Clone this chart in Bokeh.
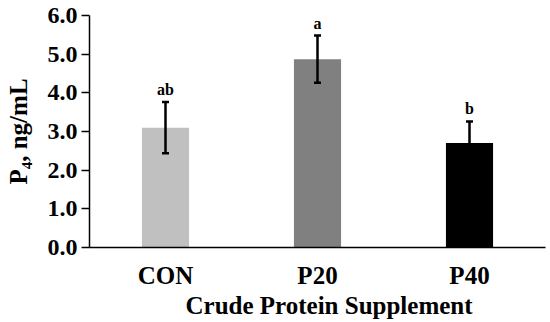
from bokeh.plotting import figure
from bokeh.models import ColumnDataSource, Whisker, Title, FixedTicker
from bokeh.core.properties import value
from bokeh.embed import file_html
from bokeh.resources import INLINE

categories = ["CON", "P20", "P40"]
means = [3.10, 4.87, 2.70]
sems = [0.66, 0.61, 0.56]
letters = ["ab", "a", "b"]
colors = ["#c0c0c0", "#808080", "#000000"]
y_ticks = [0, 1, 2, 3, 4, 5, 6]
y_tick_labels = ["0.0", "1.0", "2.0", "3.0", "4.0", "5.0", "6.0"]
y_label = "P\u2084, ng/mL"
x_label = "Crude Protein Supplement"

FONT = "Liberation Serif"
xs = list(range(1, len(categories) + 1))
src = ColumnDataSource(dict(
    x=xs, mean=means, color=colors, letter=letters,
    lower=[m - s for m, s in zip(means, sems)],
    upper=[m + s for m, s in zip(means, sems)],
))

p = figure(width=550, height=322, x_range=(0.5, 3.5), y_range=(0, 6),
           output_backend="svg", toolbar_location=None,
           min_border_left=89, min_border_right=5, min_border_top=15,
           min_border_bottom=75)
p.outline_line_color = None
p.xgrid.visible = False
p.ygrid.visible = False

p.vbar(x="x", top="mean", width=0.31, bottom=0, fill_color="color",
       line_color=None, source=src)
w = Whisker(base="x", lower="lower", upper="upper", source=src,
            line_color="black", line_width=2.5, level="overlay")
w.upper_head.size = 7
w.lower_head.size = 7
w.upper_head.line_width = 2.5
w.lower_head.line_width = 2.5
p.add_layout(w)

p.text(x="x", y="upper", text="letter", source=src, y_offset=-4,
       text_align="center", text_baseline="bottom",
       text_font=value(FONT), text_font_style="bold",
       text_font_size="16px", text_color="black")

p.yaxis.ticker = FixedTicker(ticks=y_ticks)
p.yaxis.major_label_overrides = {t: l for t, l in zip(y_ticks, y_tick_labels)}
p.yaxis.minor_tick_line_color = None
p.yaxis.major_tick_in = 0
p.yaxis.major_tick_out = 8
p.yaxis.axis_line_width = 1.5
p.yaxis.major_tick_line_width = 1.5
p.yaxis.major_label_text_font = FONT
p.yaxis.major_label_text_font_style = "bold"
p.yaxis.major_label_text_font_size = "24px"
p.yaxis.major_label_text_color = "black"
p.yaxis.major_label_standoff = 4
p.yaxis.axis_label = y_label
p.yaxis.axis_label_text_font = FONT
p.yaxis.axis_label_text_font_style = "bold"
p.yaxis.axis_label_text_font_size = "25px"
p.yaxis.axis_label_text_color = "black"
p.yaxis.axis_label_standoff = 13

p.xaxis.ticker = FixedTicker(ticks=xs)
p.xaxis.major_label_overrides = {x: c for x, c in zip(xs, categories)}
p.xaxis.minor_tick_line_color = None
p.xaxis.major_tick_line_color = None
p.xaxis.axis_line_width = 1.5
p.xaxis.major_label_text_font = FONT
p.xaxis.major_label_text_font_style = "bold"
p.xaxis.major_label_text_font_size = "25px"
p.xaxis.major_label_text_color = "black"
p.xaxis.major_label_standoff = 8

p.add_layout(Title(text=x_label, align="left", offset=96, standoff=0,
                   vertical_align="top", text_line_height=0.5,
                   text_font=FONT, text_font_style="bold",
                   text_font_size="25px", text_color="black"), "below")

open("out.html", "w").write(file_html(p, INLINE))
